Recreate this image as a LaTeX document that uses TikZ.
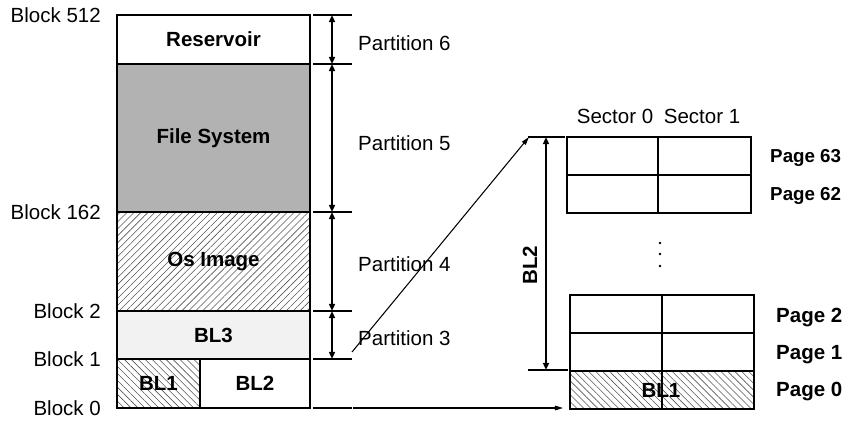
\documentclass[tikz,border=0pt]{standalone}
\usepackage{fontspec}
\setmainfont{Liberation Sans}
\usetikzlibrary{arrows.meta,patterns.meta}
\definecolor{fsysc}{HTML}{B2B2B2}
\definecolor{blthreec}{HTML}{F2F2F2}
\definecolor{hatchc}{HTML}{555555}
\tikzset{
  cell/.style={draw, line width=1.5pt},
  hatchne/.style={pattern={Lines[angle=45,distance=4.2pt,line width=0.5pt]}, pattern color=hatchc},
  hatchnw/.style={pattern={Lines[angle=-45,distance=4.2pt,line width=0.5pt]}, pattern color=hatchc},
  tick/.style={line width=1.5pt},
  span/.style={line width=1.5pt, {Triangle[length=6pt,width=5pt]}-{Triangle[length=6pt,width=5pt]}},
  link/.style={line width=0.9pt, -{Triangle[length=7pt,width=4pt]}},
  lbl/.style={font=\fontsize{17.5}{20}\selectfont, inner sep=0pt},
  blbl/.style={font=\fontsize{17.5}{20}\selectfont\bfseries, inner sep=0pt},
}
\begin{document}
\begin{tikzpicture}[x=0.03cm, y=-0.03cm]
\useasboundingbox (0,0) rectangle (853,423);
% memory map of the flash
\fill[fsysc] (117,64) rectangle (310,212);
\fill[hatchne] (117,212) rectangle (310,311);
\fill[blthreec] (117,311) rectangle (310,359);
\fill[hatchnw] (117,359) rectangle (200,408);
\draw[cell] (117,15) rectangle (310,408);
\foreach \y in {64,212,311,359} \draw[cell] (117,\y) -- (310,\y);
\draw[cell] (200,359) -- (200,408);
\node[blbl] (reservoir) at (213.5,39.5) {Reservoir};
\node[blbl] (filesys) at (213.5,138) {File System};
\node[blbl] (osimage) at (213.5,262) {Os Image};
\node[blbl] (blthree) at (213.5,335) {BL3};
\node[blbl] (blone) at (158.5,383.5) {BL1};
\node[blbl] (bltwo) at (255,383.5) {BL2};
\foreach \n/\y/\t in {0/408/Block 0,1/359/Block 1,2/311/Block 2,3/212/Block 162,5/15/Block 512}
  \node[lbl, anchor=east] (block\n) at (101,\y) {\t};
\foreach \n/\y in {0/408,1/359,2/311,3/212,4/64,5/15} {
  \coordinate (m\n) at (332,\y);
  \draw[tick] (313,\y) -- (352,\y);
}
\foreach \a/\b in {1/2,2/3,3/4,4/5} \draw[span] (m\a) -- (m\b);
\node[lbl, anchor=west] (part6) at (358,43) {Partition 6};
\node[lbl, anchor=west] (part5) at (358,143) {Partition 5};
\node[lbl, anchor=west] (part4) at (358,264) {Partition 4};
\node[lbl, anchor=west] (part3) at (358,338) {Partition 3};
% one block: pages and sectors
\fill[hatchnw] (570,371) rectangle (754,409);
\draw[cell] (567,137) rectangle (751,213);
\draw[cell] (567,175) -- (751,175);
\draw[cell] (658,137) -- (658,213);
\draw[cell] (570,295) rectangle (754,409);
\draw[cell] (570,333) -- (754,333);
\draw[cell] (570,371) -- (754,371);
\draw[cell] (662,295) -- (662,409);
\node[blbl] (pgbl) at (661,390) {BL1};
\foreach \y in {243,254,266} \fill (660,\y) circle (1.1pt);
\node[lbl] (sec0) at (615,116) {Sector 0};
\node[lbl] (sec1) at (702,116) {Sector 1};
\node[blbl, anchor=west, font=\fontsize{16}{19}\selectfont\bfseries] (pg63) at (770,158) {Page 63};
\node[blbl, anchor=west, font=\fontsize{16}{19}\selectfont\bfseries] (pg62) at (770,196) {Page 62};
\node[blbl, anchor=west] (pg2) at (776,318) {Page 2};
\node[blbl, anchor=west] (pg1) at (776,355) {Page 1};
\node[blbl, anchor=west] (pg0) at (776,392) {Page 0};
\coordinate (bltop) at (546,137);
\coordinate (blbot) at (546,370);
\draw[tick] (528,137) -- (565,137);
\draw[tick] (528,370) -- (568,370);
\draw[span] (bltop) -- (blbot);
\node[blbl, rotate=90] (bllen) at (530,265) {BL2};
% where the boot loaders go
\coordinate (blsrc) at (352,352);
\coordinate (bldst) at (529,137);
\coordinate (blzero) at (353,408);
\coordinate (pgzero) at (563,408);
\draw[link] (blsrc) -- (bldst);
\draw[link] (blzero) -- (pgzero);
\end{tikzpicture}
\end{document}
